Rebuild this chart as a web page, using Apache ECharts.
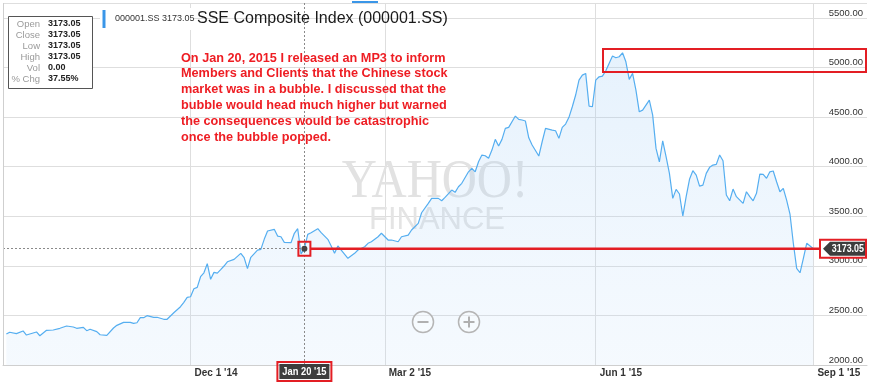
<!DOCTYPE html>
<html><head><meta charset="utf-8">
<script src="https://cdn.jsdelivr.net/npm/echarts@6/dist/echarts.min.js"></script>
<style>html,body{margin:0;padding:0;background:#fff}#c{width:870px;height:385px}</style>
</head><body><div id="c"></div>
<script>
// trading-day index (0 = Dec 1 '14) and close values
const dayIndex = [-55,-54,-52,-50,-49,-46,-45,-43,-41,-39,-37,-35,-34,-32,-31,-30,-28,-27,-25,-23,-22,-20,-18,-17,-16,-15,-14,-13,-11,-10,-8,-7,-5,-3,-2,-1,
0,1,2,3,4,5,6,7,8,9,10,11,13,15,16,17,18,20,21,22,23,25,26,27,28,30,31,32,33,34,35,36,38,39,41,42,43,44,45,47,49,50,52,53,54,56,57,
59,60,62,63,65,66,68,69,71,72,74,75,76,78,79,80,81,83,84,85,86,87,88,89,90,91,92,93,94,95,97,98,99,100,101,102,104,105,106,108,109,110,111,112,113,114,115,116,117,118,119,120,
121,122,123,124,126,127,128,129,130,131,132,133,134,135,137,138,139,140,141,142,143,144,145,146,147,148,149,150,151,152,153,154,155,156,157,158,159,160,161,162,163,165,166,167,168,169,170,171,172,173,174,175,176,177,178,179,180,181,182,183,184,185,186];
const closeValues = [2312,2330,2316,2343,2302,2333,2295,2350,2353,2370,2393,2383,2370,2380,2346,2360,2336,2305,2299,2373,2400,2430,2430,2420,2426,2477,2477,2497,2481,2481,2461,2461,2527,2588,2632,2682,
2688,2769,2783,2890,2930,3021,2864,2934,2927,2961,2998,3041,3065,3126,3082,2971,3086,3159,3166,3267,3351,3368,3300,3293,3237,3233,3328,3374,3120,3173.05,3317,3334,3374,3334,3267,3200,3126,3200,3159,3076,3126,3159,3192,3227,3243,3293,3328,
3260,3260,3243,3293,3310,3361,3428,3535,3630,3680,3680,3656,3690,3764,3741,3797,3832,3948,3983,3948,4049,4117,4110,4084,4167,4275,4208,4275,4386,4396,4510,4477,4470,4460,4291,4218,4107,4251,4386,4369,4362,4285,4396,4429,4497,4604,4722,4873,4923,4940,4611,4604,
4873,4906,4913,4967,5115,5098,5108,5148,5057,4880,4940,4772,4553,4570,4671,4520,4184,4049,4261,4100,3932,3680,3771,3724,3502,3697,3872,3959,3915,3804,3814,3932,3993,4016,4023,4117,4059,3714,3656,3774,3697,3630,3747,3697,3656,3731,3925,3922,3882,3948,3956,3848,3747,3781,3663,3522,3228,2975,2930,3076,3227,3200,3173.05];

const tickDays = [0, 58, 121, 186];
const tickLabels = ["Dec 1 '14", "Mar 2 '15", "Jun 1 '15", "Sep 1 '15"];
const focusDay = 34;
const focusLabel = "Jan 20 '15";
const lastValue = 3173.05;
const symbolText = "000001.SS 3173.05";
const titleText = "SSE Composite Index (000001.SS)";
const infoLabels = ['Open', 'Close', 'Low', 'High', 'Vol', '% Chg'];
const infoValues = ['3173.05', '3173.05', '3173.05', '3173.05', '0.00', '37.55%'];
const noteLines = [
  'On Jan 20, 2015 I released an MP3 to inform',
  'Members and Clients that the Chinese stock',
  'market was in a bubble. I discussed that the',
  'bubble would head much higher but warned',
  'the consequences would be catastrophic',
  'once the bubble popped.'
];

const FONT = '"Liberation Sans", Arial, sans-serif';
const RED = '#e31e24';

const chart = echarts.init(document.getElementById('c'), null, {renderer: 'canvas'});
const seriesData = dayIndex.map((d, i) => [d, closeValues[i]]);

chart.setOption({
  animation: false,
  backgroundColor: '#fff',
  grid: {left: 3, right: 3, top: 3, bottom: 20, containLabel: false},
  xAxis: {
    type: 'value', min: -56, max: 202,
    axisLine: {show: true, lineStyle: {color: '#cfcfcf'}},
    axisTick: {show: false, customValues: tickDays},
    splitLine: {show: true, lineStyle: {color: '#dedede', width: 1}},
    axisLabel: {
      customValues: tickDays, align: 'left', margin: 3, padding: [0, 0, 0, 4],
      color: '#333', fontSize: 10, fontWeight: 'bold', fontFamily: FONT,
      formatter: v => { const k = tickDays.indexOf(v); return k >= 0 ? tickLabels[k] : ''; }
    }
  },
  yAxis: {
    type: 'value', position: 'right', min: 2000, max: 5650, interval: 500,
    axisLine: {show: false}, axisTick: {show: false},
    splitLine: {show: true, lineStyle: {color: '#dedede', width: 1}},
    axisLabel: {
      inside: true, margin: 4, verticalAlign: 'bottom', color: '#333', fontSize: 9.5, fontFamily: FONT,
      showMaxLabel: false,
      formatter: v => (v % 500 === 0 ? v.toFixed(2) : '')
    }
  },
  series: [{
    type: 'line', data: seriesData, showSymbol: false, z: 3,
    lineStyle: {color: '#55aef0', width: 1.2},
    areaStyle: {color: new echarts.graphic.LinearGradient(0, 0, 0, 1, [
      {offset: 0, color: 'rgba(150,200,245,0.34)'},
      {offset: 1, color: 'rgba(190,220,250,0.22)'}
    ])},
    markLine: {
      silent: true, symbol: 'none', label: {show: false},
      lineStyle: {color: '#8a8a8a', type: [2, 2], width: 1},
      data: [
        {xAxis: focusDay},
        [{coord: [-56, lastValue]}, {coord: [focusDay, lastValue]}]
      ]
    }
  }]
});

const p = chart.convertToPixel({gridIndex: 0}, [focusDay, lastValue]);
const px = p[0], py = p[1];
const g = [];
// left frame line
g.push({type: 'line', z: 5, shape: {x1: 3.5, y1: 3, x2: 3.5, y2: 365}, style: {stroke: '#cfcfcf', lineWidth: 1}});
// watermark
g.push({type: 'text', z: 1, x: 435, y: 183, scaleX: 0.9, style: {text: 'YAHOO!', x: 0, y: 0, align: 'center', verticalAlign: 'middle', font: '54px "Liberation Serif", serif', fill: '#e2e2e2'}});
g.push({type: 'text', z: 1, x: 437, y: 220, style: {text: 'FINANCE', x: 0, y: 0, align: 'center', verticalAlign: 'middle', font: '31px ' + FONT, fill: '#e4e4e4'}});
// zoom buttons
[[423, '-'], [469, '+']].forEach(([cx, s]) => {
  g.push({type: 'circle', z: 5, shape: {cx: cx, cy: 322, r: 10.5}, style: {fill: 'rgba(255,255,255,0.3)', stroke: '#b5b5b5', lineWidth: 1.5}});
  g.push({type: 'line', z: 5, shape: {x1: cx - 5.5, y1: 322, x2: cx + 5.5, y2: 322}, style: {stroke: '#b0b0b0', lineWidth: 2}});
  if (s === '+') g.push({type: 'line', z: 5, shape: {x1: cx, y1: 316.5, x2: cx, y2: 327.5}, style: {stroke: '#b0b0b0', lineWidth: 2}});
});
// info box
g.push({type: 'rect', z: 10, shape: {x: 8.5, y: 16.5, width: 84, height: 72}, style: {fill: '#fff', stroke: '#555', lineWidth: 1}});
infoLabels.forEach((t, i) => {
  const y = 24 + i * 11;
  g.push({type: 'text', z: 11, style: {text: t, x: 40, y: y, align: 'right', verticalAlign: 'middle', font: '9.5px ' + FONT, fill: '#9a9a9a'}});
  g.push({type: 'text', z: 11, style: {text: infoValues[i], x: 48, y: y, align: 'left', verticalAlign: 'middle', font: 'bold 9px ' + FONT, fill: '#222'}});
});
// symbol tag and title
g.push({type: 'rect', z: 10, shape: {x: 100, y: 8, width: 94, height: 22}, style: {fill: '#fff'}});
g.push({type: 'rect', z: 11, shape: {x: 102.5, y: 10, width: 3, height: 18}, style: {fill: '#3a96e8'}});
g.push({type: 'text', z: 11, style: {text: symbolText, x: 115, y: 19, align: 'left', verticalAlign: 'middle', font: '9px ' + FONT, fill: '#333'}});
g.push({type: 'text', z: 11, style: {text: titleText, x: 197, y: 19, align: 'left', verticalAlign: 'middle', font: '16px ' + FONT, fill: '#1a1a1a'}});
g.push({type: 'rect', z: 11, shape: {x: 352, y: 1, width: 26, height: 2}, style: {fill: '#3a96e8'}});
// annotation text
noteLines.forEach((t, i) => {
  g.push({type: 'text', z: 11, style: {text: t, x: 181, y: 58 + i * 15.8, align: 'left', verticalAlign: 'middle', font: 'bold 12.7px ' + FONT, fill: '#ee1d23'}});
});
// peak box
g.push({type: 'rect', z: 12, shape: {x: 603, y: 49, width: 263, height: 23}, style: {fill: 'none', stroke: RED, lineWidth: 2}});
// focus point
g.push({type: 'circle', z: 12, shape: {cx: px, cy: py, r: 3}, style: {fill: '#444'}});
g.push({type: 'rect', z: 12, shape: {x: px - 6, y: py - 7, width: 12, height: 14}, style: {fill: 'none', stroke: RED, lineWidth: 2}});
g.push({type: 'line', z: 12, shape: {x1: px + 6, y1: py, x2: 820, y2: py}, style: {stroke: RED, lineWidth: 2.5}});
// last value tag
g.push({type: 'polygon', z: 12, shape: {points: [[823, py], [830, py - 7], [865, py - 7], [865, py + 7], [830, py + 7]]}, style: {fill: '#3d3d3d'}});
g.push({type: 'text', z: 13, x: 864, y: py, scaleX: 0.85, style: {text: '3173.05', x: 0, y: 0, align: 'right', verticalAlign: 'middle', font: 'bold 10.5px ' + FONT, fill: '#fff'}});
g.push({type: 'rect', z: 13, shape: {x: 820, y: py - 9, width: 46, height: 18}, style: {fill: 'none', stroke: RED, lineWidth: 2}});
// focus date label
g.push({type: 'rect', z: 12, shape: {x: px - 25, y: 364, width: 50, height: 15}, style: {fill: '#3d3d3d'}});
g.push({type: 'text', z: 13, x: px, y: 371.5, scaleX: 0.85, style: {text: focusLabel, x: 0, y: 0, align: 'center', verticalAlign: 'middle', font: 'bold 11px ' + FONT, fill: '#fff'}});
g.push({type: 'rect', z: 13, shape: {x: px - 27, y: 362, width: 54, height: 19}, style: {fill: 'none', stroke: RED, lineWidth: 2}});

chart.setOption({graphic: {elements: g}});
</script>
</body></html>
